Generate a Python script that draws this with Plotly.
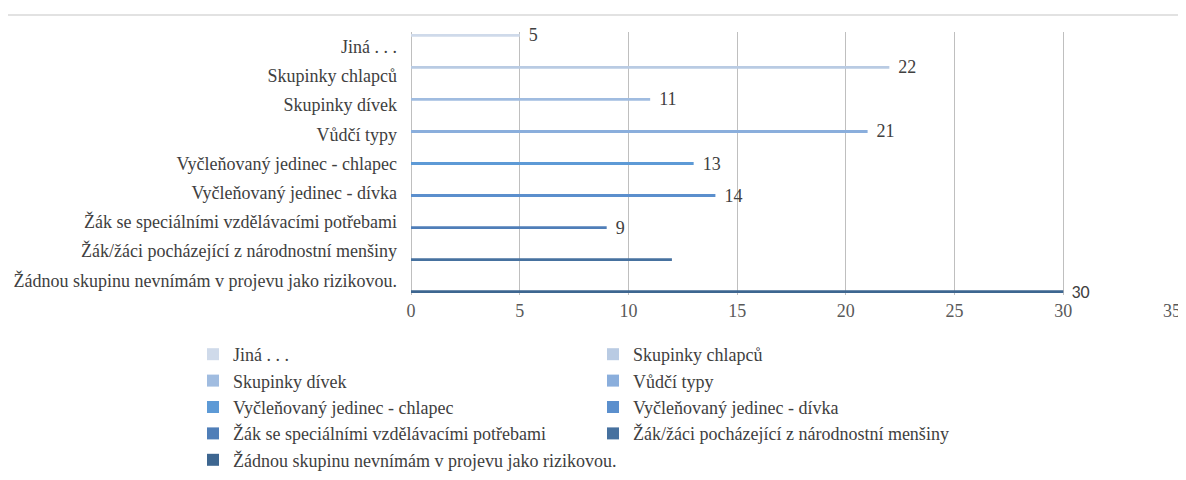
import plotly.graph_objects as go

categories = [
    "Jiná . . .",
    "Skupinky chlapců",
    "Skupinky dívek",
    "Vůdčí typy",
    "Vyčleňovaný jedinec - chlapec",
    "Vyčleňovaný jedinec - dívka",
    "Žák se speciálními vzdělávacími potřebami",
    "Žák/žáci pocházející z národnostní menšiny",
    "Žádnou skupinu nevnímám v projevu jako rizikovou.",
]
values = [5, 22, 11, 21, 13, 14, 9, 12, 30]
label_shown = [True, True, True, True, True, True, True, False, True]
colors = ["#cfdaea", "#b9cbe3", "#a0bce0", "#8aaedc", "#5d9ad6",
          "#5b8fcd", "#4f7eb8", "#46719f", "#3d6690"]

SERIF = "Liberation Serif"
SANS = "Carlito"
label_fonts = [SERIF] * 8 + [SANS]

# page body has an 8px margin; work in reference pixel coords and shift
OFF = 8
W, H = 1186 - OFF, 480 - OFF
L, R, T, B = 411 - OFF, 14, 32 - OFF, 185
pw, ph = W - L - R, H - T - B

def px_x(px):
    return (px - OFF - L) / pw

def px_y(py):
    return (H - B - (py - OFF)) / ph

fig = go.Figure()
for i, (cat, val) in enumerate(zip(categories, values)):
    fig.add_trace(go.Bar(
        y=[cat], x=[val], name=cat, orientation="h",
        offsetgroup=str(i), alignmentgroup="all",
        marker=dict(color=colors[i], line=dict(width=0)),
        texttemplate=("\u00a0\u00a0%{x}" if label_shown[i] else ""),
        textposition="outside", constraintext="none", cliponaxis=False,
        textfont=dict(family=label_fonts[i], size=18, color="#404040"),
        showlegend=True,
    ))

fig.update_layout(
    width=W, height=H,
    margin=dict(l=L, r=R, t=T, b=B, autoexpand=False),
    paper_bgcolor="white", plot_bgcolor="white",
    barmode="group", bargap=0.14, bargroupgap=0,
    legend=dict(
        orientation="h", entrywidth=355, entrywidthmode="pixels",
        xanchor="left", yanchor="top", x=px_x(193), y=px_y(336),
        font=dict(family=SERIF, size=18, color="#404040"),
        bgcolor="rgba(0,0,0,0)", traceorder="normal",
    ),
    xaxis=dict(range=[0, 35], dtick=5, tick0=0, showgrid=True,
               gridcolor="#bfbfbf", gridwidth=1.3, zeroline=True,
               zerolinecolor="#bfbfbf", zerolinewidth=1.3, showline=False,
               tickfont=dict(family=SERIF, size=18, color="#595959"),
               ticks="", ticklabelstandoff=3),
    yaxis=dict(categoryorder="array", categoryarray=categories,
               autorange="reversed", showgrid=False, showline=False,
               zeroline=False, ticks="", ticklabelstandoff=13,
               tickfont=dict(family=SERIF, size=18, color="#404040")),
    shapes=[
        dict(type="line", xref="paper", yref="paper",
             x0=px_x(7), x1=px_x(1300), y0=px_y(15), y1=px_y(15),
             line=dict(color="#d9d9d9", width=1.5)),
        dict(type="line", xref="paper", yref="paper",
             x0=px_x(7), x1=px_x(7), y0=px_y(15), y1=px_y(600),
             line=dict(color="#d9d9d9", width=1.5)),
    ],
)

fig.write_html("out.html")
